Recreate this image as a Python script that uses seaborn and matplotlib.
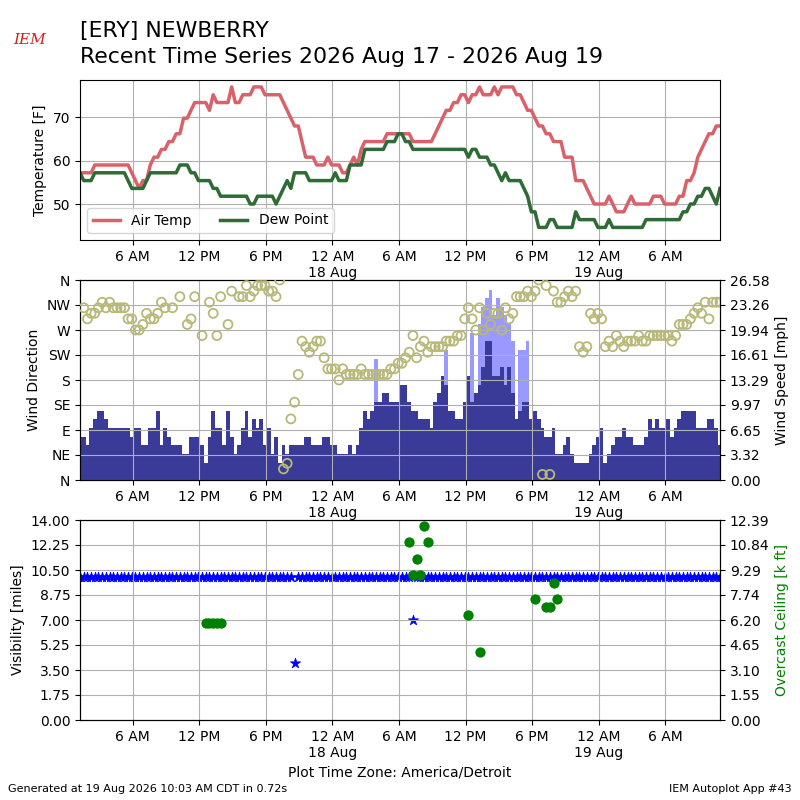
import numpy as np
import pandas as pd
import matplotlib
matplotlib.use("Agg")
import matplotlib.pyplot as plt
import matplotlib.dates as mdates
from matplotlib.ticker import FormatStrFormatter
import seaborn as sns

nan = np.nan

# ---------------- data (20-minute observations) ----------------
start_time = "2026-08-17 01:15"
n_obs = 174

air_temp_f = [
    57.2, 57.2, 57.2, 57.2, 59, 59, 59, 59, 59, 59,
    59, 59, 59, 59, 57.2, 55.4, 53.6, 55.4, 55.4, 59,
    60.8, 60.8, 62.6, 62.6, 64.4, 64.4, 66.2, 66.2, 69.8, 69.8,
    71.6, 73.4, 73.4, 73.4, 73.4, 71.6, 75.2, 73.4, 73.4, 73.4,
    73.4, 77, 73.4, 73.4, 75.2, 75.2, 75.2, 77, 77, 77,
    75.2, 75.2, 75.2, 75.2, 75.2, 73.4, 71.6, 69.8, 68, 68,
    64.4, 60.8, 60.8, 60.8, 59, 59, 59, 60.8, 59, 59,
    59, 57.2, 57.2, 59, 60.8, 59, 62.6, 64.4, 64.4, 64.4,
    64.4, 64.4, 64.4, 66.2, 66.2, 66.2, 66.2, 66.2, 66.2, 66.2,
    64.4, 64.4, 64.4, 64.4, 64.4, 64.4, 66.2, 68, 69.8, 71.6,
    71.6, 73.4, 73.4, 75.2, 75.2, 73.4, 75.2, 75.2, 77, 75.2,
    75.2, 75.2, 77, 75.2, 77, 77, 77, 77, 75.2, 75.2,
    73.4, 71.6, 71.6, 69.8, 68, 68, 66.2, 66.2, 64.4, 64.4,
    64.4, 60.8, 60.8, 60.8, 55.4, 55.4, 55.4, 53.6, 51.8, 50,
    50, 50, 50, 51.8, 50, 48.2, 48.2, 48.2, 50, 51.8,
    50, 50, 50, 50, 50, 51.8, 51.8, 51.8, 50, 50,
    50, 50, 51.8, 51.8, 55.4, 55.4, 57.2, 60.8, 62.6, 64.4,
    66.2, 66.2, 68, 68,
]

dew_point_f = [
    57.2, 55.4, 55.4, 55.4, 57.2, 57.2, 57.2, 57.2, 57.2, 57.2,
    57.2, 57.2, 57.2, 55.4, 53.6, 53.6, 53.6, 53.6, 55.4, 57.2,
    57.2, 57.2, 57.2, 57.2, 57.2, 57.2, 57.2, 59, 59, 59,
    57.2, 57.2, 55.4, 55.4, 55.4, 55.4, 53.6, 53.6, 51.8, 51.8,
    51.8, 51.8, 51.8, 51.8, 51.8, 51.8, 50, 50, 51.8, 51.8,
    51.8, 51.8, 51.8, 50, 51.8, 53.6, 55.4, 53.6, 57.2, 57.2,
    57.2, 57.2, 55.4, 55.4, 55.4, 55.4, 55.4, 55.4, 55.4, 57.2,
    55.4, 55.4, 55.4, 59, 59, 59, 59, 62.6, 62.6, 62.6,
    62.6, 62.6, 62.6, 64.4, 64.4, 64.4, 66.2, 66.2, 64.4, 64.4,
    62.6, 62.6, 62.6, 62.6, 62.6, 62.6, 62.6, 62.6, 62.6, 62.6,
    62.6, 62.6, 62.6, 62.6, 62.6, 60.8, 62.6, 62.6, 60.8, 60.8,
    60.8, 59, 59, 57.2, 55.4, 57.2, 55.4, 55.4, 55.4, 55.4,
    53.6, 51.8, 48.2, 48.2, 44.6, 44.6, 44.6, 46.4, 46.4, 44.6,
    44.6, 44.6, 44.6, 44.6, 48.2, 46.4, 46.4, 46.4, 46.4, 46.4,
    44.6, 44.6, 44.6, 46.4, 44.6, 44.6, 44.6, 44.6, 44.6, 44.6,
    44.6, 44.6, 44.6, 46.4, 46.4, 46.4, 46.4, 46.4, 46.4, 46.4,
    46.4, 46.4, 46.4, 48.2, 48.2, 50, 50, 51.8, 51.8, 53.6,
    53.6, 51.8, 50, 53.6,
]

wind_dir_deg = [
    nan, 310, 290, 300, 300, 310, 320, 310, 320, 310,
    310, 310, 310, 290, 290, 270, 270, 280, 300, 290,
    290, 300, 320, 310, nan, 310, nan, 330, nan, 280,
    290, 330, nan, 260, nan, 320, 300, 260, 330, nan,
    280, 340, nan, 330, 330, 350, 330, 340, 350, 350,
    350, 340, 340, 330, 360, 20, 30, 110, 140, 190,
    250, 240, 230, 240, 250, 250, 220, 200, 200, 200,
    180, 200, 190, 190, 190, 190, 200, 190, 190, 190,
    190, 190, 190, 190, 200, 200, 210, 210, 220, 230,
    260, 220, 240, 250, 230, 240, 240, 240, 240, 250,
    250, 250, 260, 260, 290, 310, 290, 270, 310, 270,
    300, 280, 300, 300, 270, 310, 290, 300, 330, 330,
    330, 340, 330, 340, 360, 10, 350, 10, 340, 320,
    320, 330, 340, 330, 340, 240, 230, 240, 300, 290,
    300, 290, 240, 250, 240, 260, 250, 240, 250, 250,
    250, 260, 250, 250, 260, 260, 260, 260, 260, 260,
    250, 260, 280, 280, 280, 290, 300, 310, 300, 320,
    290, 320, 320, 320,
]

wind_speed_kt = [
    5, 5, 4, 6, 7, 8, 8, 7, 6, 6,
    6, 6, 6, 6, 5, 6, 6, 4, 4, 6,
    6, 8, 4, 6, 5, 4, 4, 4, 3, 3,
    5, 5, 5, 4, 2, 5, 8, 6, 6, 4,
    8, 5, 3, 4, 6, 8, 5, 7, 6, 7,
    4, 6, 3, 5, 2, 4, 3, 4, 4, 4,
    4, 5, 5, 4, 4, 4, 5, 5, 4, 4,
    3, 3, 3, 4, 3, 4, 6, 8, 7, 8,
    9, 9, 10, 10, 9, 9, 9, 11, 11, 9,
    8, 8, 7, 7, 7, 6, 9, 10, 12, 11,
    8, 8, 7, 7, 9, 12, 9, 10, 11, 13,
    16, 16, 12, 12, 13, 11, 13, 10, 7, 8,
    9, 9, 7, 8, 7, 6, 5, 5, 6, 3,
    3, 4, 5, 3, 2, 2, 2, 2, 3, 4,
    5, 6, 2, 3, 4, 5, 5, 6, 5, 5,
    4, 4, 4, 5, 7, 6, 7, 6, 6, 7,
    5, 6, 7, 8, 8, 8, 8, 6, 6, 6,
    7, 7, 6, 4,
]

gust_obs_index = [80, 99, 106, 108, 109, 110, 111, 112, 113, 114, 115, 116, 117, 119, 120, 121]
gust_kt = [14, 15, 17, 18, 20, 21, 22, 19, 21, 20, 19, 18, 16, 15, 15, 16]

# visibility as (value, number of consecutive observations)
visibility_runs = [(10.0, 58), (4.0, 1), (10.0, 31), (7.0, 1), (10.0, 83)]

ceiling_obs_index = [34, 35, 36, 37, 38, 89, 90, 91, 92, 93, 94, 105, 108, 123, 126, 127, 128, 129]
ceiling_kft = [6.0, 6.0, 6.0, 6.0, 6.0, 11.0, 9.0, 10.0, 9.0, 12.0, 11.0, 6.5, 4.2, 7.5, 7.0, 7.0, 8.5, 7.5]

tick_times = ["2026-08-17 06:00", "2026-08-17 12:00", "2026-08-17 18:00",
              "2026-08-18 00:00", "2026-08-18 06:00", "2026-08-18 12:00",
              "2026-08-18 18:00", "2026-08-19 00:00", "2026-08-19 06:00"]
tick_labels = ["6 AM", "12 PM", "6 PM", "12 AM\n18 Aug", "6 AM", "12 PM",
               "6 PM", "12 AM\n19 Aug", "6 AM"]
dir_labels = ["N", "NE", "E", "SE", "S", "SW", "W", "NW", "N"]

# ---------------- build table ----------------
KT2MPH = 1.15078
times = pd.date_range(start_time, periods=n_obs, freq="20min")
gust_full = np.full(n_obs, nan)
gust_full[gust_obs_index] = gust_kt
ceil_full = np.full(n_obs, nan)
ceil_full[ceiling_obs_index] = ceiling_kft
vis_full = np.concatenate([[v] * c for v, c in visibility_runs])

df = pd.DataFrame({
    "time": times,
    "tmpf": air_temp_f,
    "dwpf": dew_point_f,
    "drct": wind_dir_deg,
    "smph": np.array(wind_speed_kt) * KT2MPH,
    "gmph": gust_full * KT2MPH,
    "vis": vis_full,
    "ceil": ceil_full,
})

RED = "#d9626a"
GREEN = "#2f6b34"
CIRC = "#b8b878"
DARKBAR = "#3a3a98"
LIGHTBAR = "#9999ff"

fig = plt.figure(figsize=(8, 8), dpi=100)
ax1 = fig.add_axes([0.1, 0.7, 0.8, 0.2])
ax2 = fig.add_axes([0.1, 0.4, 0.8, 0.25])
ax3 = fig.add_axes([0.1, 0.1, 0.8, 0.25])

tick_nums = mdates.date2num(pd.to_datetime(tick_times))
xlim = (mdates.date2num(times[0]), mdates.date2num(times[-1]))

# ---------------- temperature ----------------
sns.lineplot(data=df, x="time", y="tmpf", ax=ax1, color=RED, lw=2.5, label="Air Temp")
sns.lineplot(data=df, x="time", y="dwpf", ax=ax1, color=GREEN, lw=2.5, label="Dew Point")
ax1.set_ylim(41.7, 78.6)
ax1.set_yticks([50, 60, 70])
ax1.set_ylabel("Temperature [F]")
ax1.set_xlabel("")
ax1.legend(loc="lower left", ncol=2)

# ---------------- wind ----------------
ax2b = ax2.twinx()
width = 20.0 / 1440.0
ax2b.bar(df["time"], df["gmph"], width=width, color=LIGHTBAR, linewidth=0)
ax2b.bar(df["time"], df["smph"], width=width, color=DARKBAR, linewidth=0)
smax = np.nanmax(df["gmph"]) * 1.05
ax2b.set_ylim(0, smax)
ax2b.set_yticks(np.linspace(0, smax, 9))
ax2b.yaxis.set_major_formatter(FormatStrFormatter("%.2f"))
ax2b.set_ylabel("Wind Speed [mph]")

ax2.set_zorder(ax2b.get_zorder() + 1)
ax2.patch.set_visible(False)
ax2.scatter(df["time"], df["drct"], s=42, facecolors="none", edgecolors=CIRC,
            linewidths=1.3, zorder=3)
ax2.set_ylim(0, 360)
ax2.set_yticks(np.arange(0, 361, 45))
ax2.set_yticklabels(dir_labels)
ax2.set_ylabel("Wind Direction")

# ---------------- visibility / ceiling ----------------
sns.scatterplot(data=df, x="time", y="vis", ax=ax3, marker="*", color="blue",
                s=60, linewidth=0.5, edgecolor="blue")
ax3.set_ylim(0, 14)
ax3.set_yticks(np.linspace(0, 14, 9))
ax3.yaxis.set_major_formatter(FormatStrFormatter("%.2f"))
ax3.set_ylabel("Visibility [miles]")
ax3.set_xlabel("Plot Time Zone: America/Detroit")

ax3b = ax3.twinx()
sns.scatterplot(data=df, x="time", y="ceil", ax=ax3b, marker="o", color="green",
                s=55, linewidth=0)
ax3b.set_ylim(0, 12.39)
ax3b.set_yticks(np.linspace(0, 12.39, 9))
ax3b.yaxis.set_major_formatter(FormatStrFormatter("%.2f"))
ax3b.set_ylabel("Overcast Ceiling [k ft]", color="green")

for ax in (ax1, ax2, ax3):
    ax.set_xlim(*xlim)
    ax.set_xticks(tick_nums)
    ax.set_xticklabels(tick_labels)
    ax.grid(True, color="#b0b0b0", linewidth=0.8)
    if ax is not ax3:
        ax.set_xlabel("")
ax2b.set_xlim(*xlim)
ax3b.set_xlim(*xlim)

# ---------------- titles / footer ----------------
fig.text(0.1, 0.954, "[ERY] NEWBERRY", fontsize=15.8, va="baseline")
fig.text(0.1, 0.921, "Recent Time Series 2026 Aug 17 - 2026 Aug 19", fontsize=15.8, va="baseline")
fig.text(0.037, 0.945, "IEM", fontsize=11, color="#d42020", style="italic",
         family="DejaVu Serif", ha="center", va="baseline")
fig.text(0.01, 0.01, "Generated at 19 Aug 2026 10:03 AM CDT in 0.72s", fontsize=8, va="baseline")
fig.text(0.99, 0.01, "IEM Autoplot App #43", fontsize=8, ha="right", va="baseline")

fig.savefig("out.png", dpi=100)
